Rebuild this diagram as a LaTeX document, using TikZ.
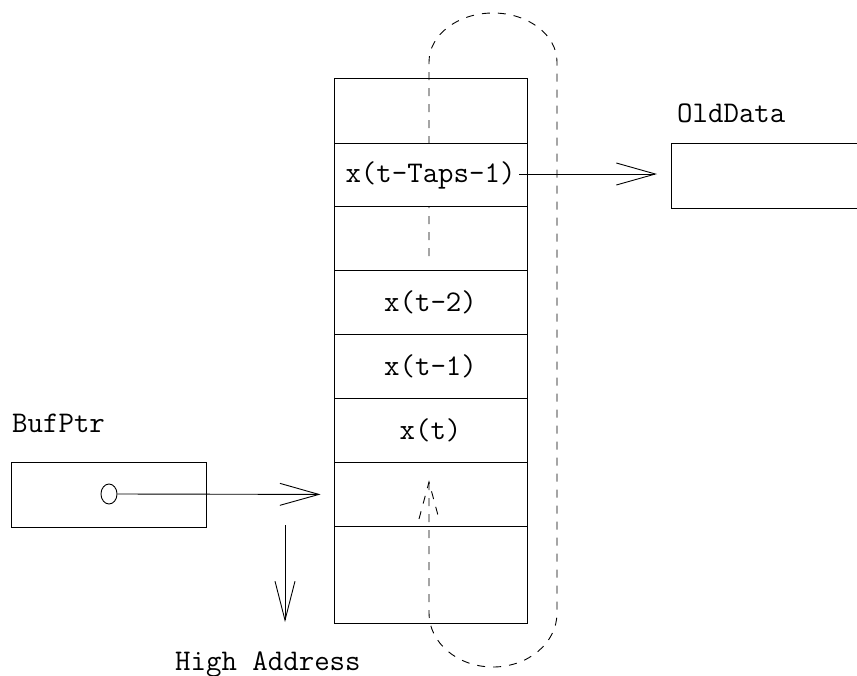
\documentclass[tikz,border=0pt]{standalone}
\usetikzlibrary{arrows.meta,shapes.geometric,calc}
\begin{document}
\begin{tikzpicture}[x=1pt,y=-1pt,
  lbl/.style={font=\fontsize{30}{32}\selectfont\ttfamily, inner sep=0pt, anchor=base west},
  cell/.style={draw, line width=0.9pt, fill=white, minimum width=193pt, inner sep=0pt, anchor=north,
               font=\fontsize{30}{32}\selectfont\ttfamily},
  loop/.style={line width=0.9pt, dash pattern=on 8pt off 8pt},
  barb/.style={line width=0.9pt, -{Straight Barb[length=39pt,width=22pt,line width=0.9pt]}},
  box/.style={draw, line width=0.9pt, inner sep=0pt}
]
\useasboundingbox (0,0) rectangle (857,675);

% dashed loop (drawn first, hidden by filled cells)
\coordinate (dtip) at (429,482);
\draw[loop] (dtip) -- (429,613) arc[start angle=180, end angle=0, x radius=64, y radius=54]
  -- (557,62) arc[start angle=0, end angle=-180, x radius=64, y radius=49] -- (429,262);
\draw[loop] ($(dtip)+(-10,37)$) -- (dtip) -- ($(dtip)+(10,37)$);

% buffer cells
\node[cell, minimum height=65pt, fill=none] (r0) at (430.5,78) {};
\node[cell, minimum height=63pt] (r1) at (430.5,143) {x(t-Taps-1)};
\node[cell, minimum height=64pt, fill=none] (r2) at (430.5,206) {};
\node[cell, minimum height=64pt] (r3) at (430.5,270) {x(t-2)};
\node[cell, minimum height=64pt] (r4) at (430.5,334) {x(t-1)};
\node[cell, minimum height=64pt] (r5) at (430.5,398) {x(t)};
\node[cell, minimum height=64pt, fill=none] (r6) at (430.5,462) {};
\node[cell, minimum height=97pt, fill=none] (r7) at (430.5,526) {};

% BufPtr
\node[lbl] (bufl) at (12,432) {BufPtr};
\node[box, minimum width=195pt, minimum height=65pt, anchor=north west] (bufbox) at (11,462) {};
\node[draw, ellipse, line width=0.9pt, minimum width=16pt, minimum height=20pt, inner sep=0pt] (dot) at (109,494) {};
\draw[barb, shorten >=13pt] (dot.east) -- (r6.west);

% High address arrow
\coordinate (hs) at (285,525);
\coordinate (he) at (285,622);
\draw[line width=0.9pt, -{Straight Barb[length=39pt,width=20pt,line width=0.9pt]}] (hs) -- (he);
\node[lbl] (high) at (175,670) {High Address};

% OldData
\node[lbl] (oldl) at (677,122) {OldData};
\node[box, minimum width=190pt, minimum height=65pt, anchor=north west] (oldbox) at (671,143) {};
\coordinate (taps) at (519,174);
\draw[barb, shorten >=14pt] (taps) -- (oldbox.west |- taps);
\end{tikzpicture}
\end{document}
